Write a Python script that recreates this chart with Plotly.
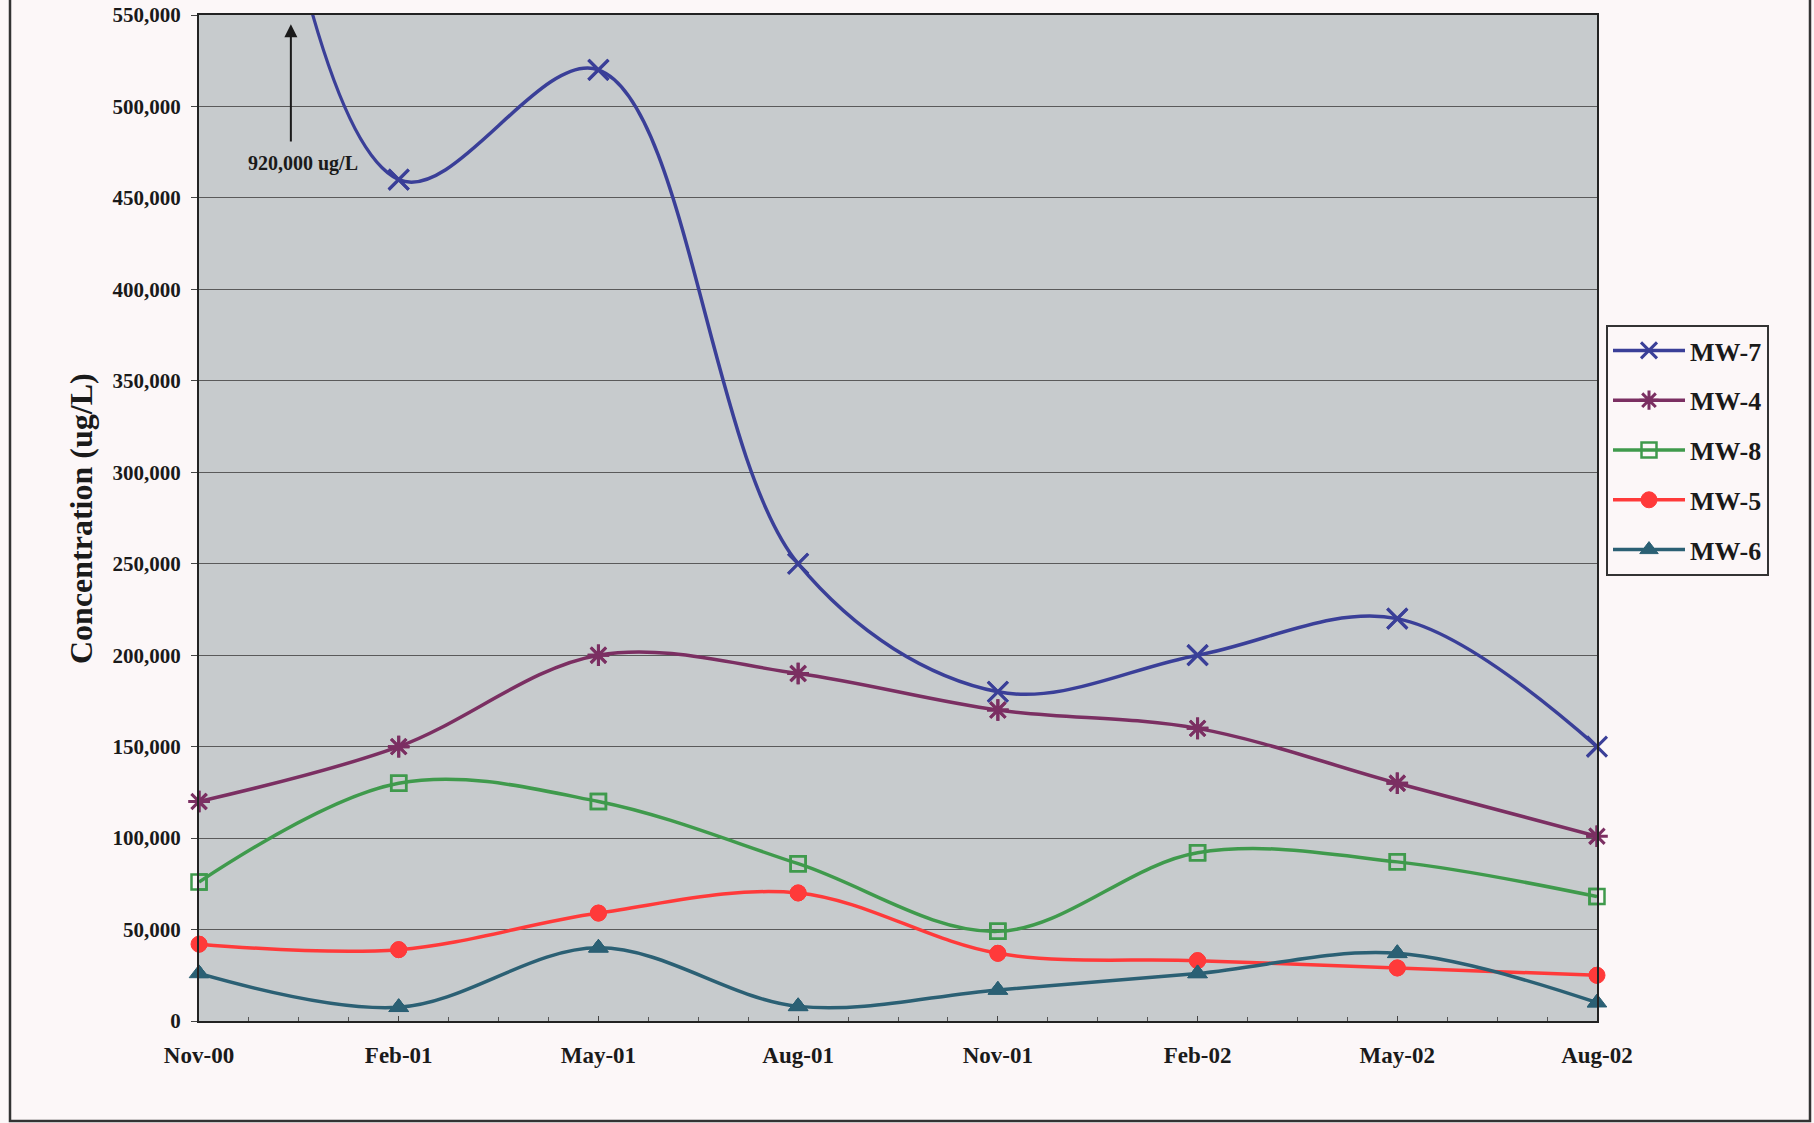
import plotly.graph_objects as go

dates = ["Nov-00", "Feb-01", "May-01", "Aug-01", "Nov-01", "Feb-02", "May-02", "Aug-02"]
mw7 = [920000, 460000, 520000, 250000, 180000, 200000, 220000, 150000]
mw4 = [120000, 150000, 200000, 190000, 170000, 160000, 130000, 101000]
mw8 = [76000, 130000, 120000, 86000, 49000, 92000, 87000, 68000]
mw5 = [42000, 39000, 59000, 70000, 37000, 33000, 29000, 25000]
mw6 = [26000, 7500, 40000, 8000, 17000, 26000, 37000, 10000]
ytickvals = list(range(0, 550001, 50000))
yticktext = [f"{v:,}" for v in ytickvals]

x = list(range(len(dates)))
FONT = "Liberation Serif"

series = [
    ("MW-7", mw7, "#3a3f98", "x-thin", 20, 3),
    ("MW-4", mw4, "#7b2f62", "asterisk", 18, 3),
    ("MW-8", mw8, "#3f9a4c", "square-open", 15, 2.5),
    ("MW-5", mw5, "#ff3a3a", "circle", 16, 1),
    ("MW-6", mw6, "#2b6074", "triangle-up", 17, 1),
]

fig = go.Figure()
for name, vals, color, sym, size, mlw in series:
    fig.add_trace(go.Scatter(
        x=x, y=vals, name=name, mode="lines+markers", legendgroup=name,
        line=dict(color=color, width=3.5, shape="spline", smoothing=1.0),
        marker=dict(symbol=sym, size=size, color=color, line=dict(color=color, width=mlw)),
        cliponaxis=True,
    ))
    fig.add_trace(go.Scatter(
        x=x, y=vals, name=name, mode="markers", legendgroup=name, showlegend=False,
        marker=dict(symbol=sym, size=size, color=color, line=dict(color=color, width=mlw)),
        cliponaxis=False, hoverinfo="skip",
    ))

W, H = 1814, 1123
L, R, T, B = 199, 217, 15, 102
pw, ph = W - L - R, H - T - B

def px(xp):
    return (xp - L) / pw

def py(yp):
    return (H - B - yp) / ph

fig.update_layout(
    width=W, height=H,
    margin=dict(l=L, r=R, t=T, b=B, autoexpand=False),
    paper_bgcolor="#fcf7f8",
    plot_bgcolor="#c7cbcd",
    font=dict(family=FONT, color="#1a1a1a"),
    showlegend=True,
    legend=dict(
        x=px(1606), y=py(325), xanchor="left", yanchor="top",
        bgcolor="#fcf7f8", bordercolor="#333333", borderwidth=2,
        font=dict(family=FONT, size=26, color="#1a1a1a", weight="bold"),
        tracegroupgap=13, itemwidth=72,
    ),
    xaxis=dict(
        range=[0, len(dates) - 1], tickmode="array", tickvals=x, ticktext=dates,
        showgrid=False, zeroline=False, showline=True, linecolor="#222222", linewidth=2,
        mirror=True, ticks="inside", ticklen=5, tickcolor="#444444", automargin=False,
        minor=dict(dtick=0.25, ticks="inside", ticklen=4, tickcolor="#555555", showgrid=False),
        tickfont=dict(family=FONT, size=23, color="#1a1a1a", weight="bold"),
        ticklabelstandoff=12,
    ),
    yaxis=dict(
        range=[0, 550000], tickmode="array", tickvals=ytickvals, ticktext=yticktext,
        showgrid=True, gridcolor="#5a5a5a", gridwidth=1.2, zeroline=False,
        showline=True, linecolor="#222222", linewidth=2, mirror=True, automargin=False,
        ticks="outside", ticklen=6, tickcolor="#444444",
        tickfont=dict(family=FONT, size=21, color="#1a1a1a", weight="bold"),
        ticklabelstandoff=6,
    ),
    annotations=[
        dict(xref="paper", yref="paper", x=px(81), y=py(519), text="Concentration (ug/L)",
             textangle=-90, showarrow=False, xanchor="center", yanchor="middle",
             font=dict(family=FONT, size=32, color="#1a1a1a", weight="bold")),
        dict(xref="x", yref="y", x=0.52, y=469000, text="920,000 ug/L", showarrow=False,
             xanchor="center", yanchor="middle",
             font=dict(family=FONT, size=20, color="#1a1a1a", weight="bold")),
        dict(xref="x", yref="y", x=0.46, y=545000, ax=0.46, ay=480000,
             axref="x", ayref="y", text="", showarrow=True, arrowhead=2,
             arrowsize=1.3, arrowwidth=2, arrowcolor="#1a1a1a"),
    ],
    shapes=[
        dict(type="rect", xref="paper", yref="paper", x0=px(10), x1=px(1810),
             y0=py(1121), y1=py(-10), line=dict(color="#333333", width=2.5),
             fillcolor="rgba(0,0,0,0)", layer="below"),
    ],
)

fig.write_html("out.html")
